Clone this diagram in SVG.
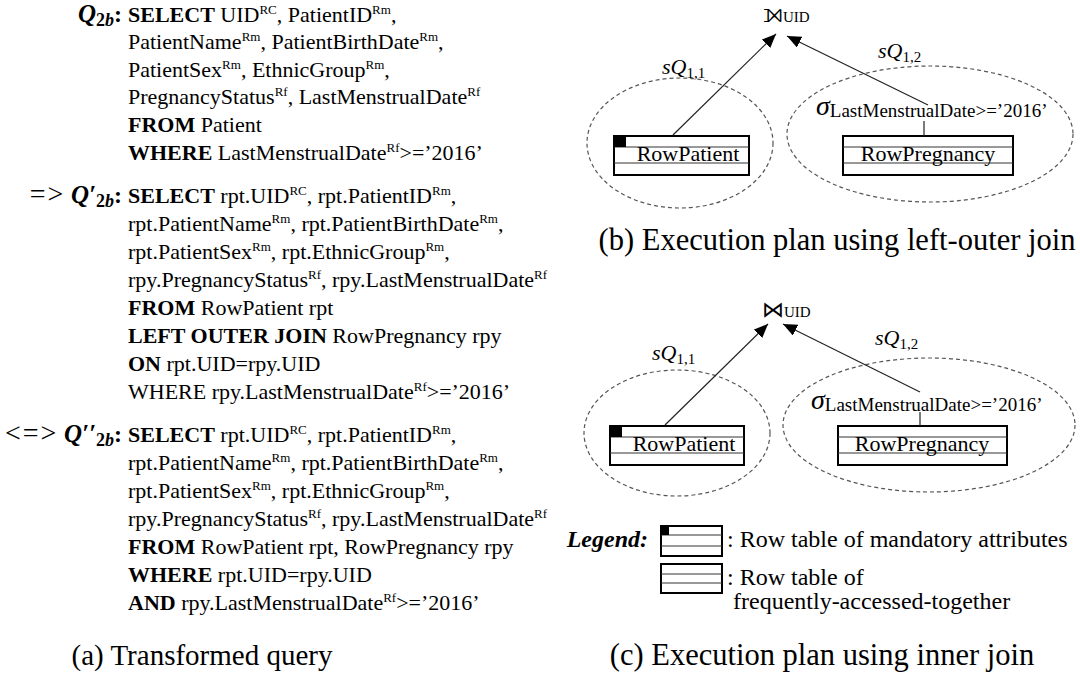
<svg xmlns="http://www.w3.org/2000/svg" width="1080" height="679" viewBox="0 0 1080 679">
<style>
text{font-family:"Liberation Serif","Times New Roman",serif;font-size:22px;fill:#000}
.b{font-weight:bold}
.i{font-style:italic}
.sup{font-size:13px}
.sub{font-size:15px}
.cap{font-size:29px}
.cap2{font-size:30.5px}
.lg{font-size:24px}
.tbl{font-size:22px}
.lq{font-size:25px}
.ls{font-size:18px}
.arr{font-size:28px;letter-spacing:2px}
.ell{fill:none;stroke:#555;stroke-width:1.2;stroke-dasharray:4 3}
.box{fill:#fff;stroke:#000;stroke-width:2}
.row{stroke:#333;stroke-width:1}
.conn{stroke:#222;stroke-width:1.2;fill:none}
.sym{font-family:"DejaVu Sans","DejaVu Serif","Noto Sans",sans-serif}
</style>
<defs>
<marker id="ah" markerUnits="userSpaceOnUse" markerWidth="15" markerHeight="12" refX="14" refY="6" orient="auto"><path d="M0,0 L14,6 L0,12 Z" fill="#000"/></marker>
</defs>

<g id="query-a">
<text x="122" y="22" text-anchor="end" class="b"><tspan class="i lq">Q</tspan><tspan class="ls" dy="4">2<tspan class="i">b</tspan></tspan><tspan dy="-4" font-size="24">:</tspan></text>
<text x="128" y="22"><tspan class="b">SELECT</tspan> UID<tspan class="sup" dy="-8">RC</tspan><tspan dy="8">, PatientID</tspan><tspan class="sup" dy="-8">Rm</tspan><tspan dy="8">,</tspan></text>
<text x="128" y="49">PatientName<tspan class="sup" dy="-8">Rm</tspan><tspan dy="8">, PatientBirthDate</tspan><tspan class="sup" dy="-8">Rm</tspan><tspan dy="8">,</tspan></text>
<text x="128" y="77">PatientSex<tspan class="sup" dy="-8">Rm</tspan><tspan dy="8">, EthnicGroup</tspan><tspan class="sup" dy="-8">Rm</tspan><tspan dy="8">,</tspan></text>
<text x="128" y="104">PregnancyStatus<tspan class="sup" dy="-8">Rf</tspan><tspan dy="8">, LastMenstrualDate</tspan><tspan class="sup" dy="-8">Rf</tspan></text>
<text x="128" y="132"><tspan class="b">FROM</tspan> Patient</text>
<text x="128" y="160"><tspan class="b">WHERE</tspan> LastMenstrualDate<tspan class="sup" dy="-8">Rf</tspan><tspan dy="8">&gt;=’2016’</tspan></text>

<text x="122" y="203" text-anchor="end"><tspan class="arr">=&gt;</tspan><tspan> </tspan><tspan class="b i lq">Q′</tspan><tspan class="ls b" dy="4">2<tspan class="i">b</tspan></tspan><tspan class="b" dy="-4" font-size="24">:</tspan></text>
<text x="128" y="203"><tspan class="b">SELECT</tspan> rpt.UID<tspan class="sup" dy="-8">RC</tspan><tspan dy="8">, rpt.PatientID</tspan><tspan class="sup" dy="-8">Rm</tspan><tspan dy="8">,</tspan></text>
<text x="128" y="231">rpt.PatientName<tspan class="sup" dy="-8">Rm</tspan><tspan dy="8">, rpt.PatientBirthDate</tspan><tspan class="sup" dy="-8">Rm</tspan><tspan dy="8">,</tspan></text>
<text x="128" y="259">rpt.PatientSex<tspan class="sup" dy="-8">Rm</tspan><tspan dy="8">, rpt.EthnicGroup</tspan><tspan class="sup" dy="-8">Rm</tspan><tspan dy="8">,</tspan></text>
<text x="128" y="287">rpy.PregnancyStatus<tspan class="sup" dy="-8">Rf</tspan><tspan dy="8">, rpy.LastMenstrualDate</tspan><tspan class="sup" dy="-8">Rf</tspan></text>
<text x="128" y="315"><tspan class="b">FROM</tspan> RowPatient rpt</text>
<text x="128" y="343"><tspan class="b">LEFT OUTER JOIN</tspan> RowPregnancy rpy</text>
<text x="128" y="371"><tspan class="b">ON</tspan> rpt.UID=rpy.UID</text>
<text x="128" y="399">WHERE rpy.LastMenstrualDate<tspan class="sup" dy="-8">Rf</tspan><tspan dy="8">&gt;=’2016’</tspan></text>

<text x="122" y="442" text-anchor="end"><tspan class="arr">&lt;=&gt;</tspan><tspan> </tspan><tspan class="b i lq">Q′′</tspan><tspan class="ls b" dy="4">2<tspan class="i">b</tspan></tspan><tspan class="b" dy="-4" font-size="24">:</tspan></text>
<text x="128" y="442"><tspan class="b">SELECT</tspan> rpt.UID<tspan class="sup" dy="-8">RC</tspan><tspan dy="8">, rpt.PatientID</tspan><tspan class="sup" dy="-8">Rm</tspan><tspan dy="8">,</tspan></text>
<text x="128" y="470">rpt.PatientName<tspan class="sup" dy="-8">Rm</tspan><tspan dy="8">, rpt.PatientBirthDate</tspan><tspan class="sup" dy="-8">Rm</tspan><tspan dy="8">,</tspan></text>
<text x="128" y="498">rpt.PatientSex<tspan class="sup" dy="-8">Rm</tspan><tspan dy="8">, rpt.EthnicGroup</tspan><tspan class="sup" dy="-8">Rm</tspan><tspan dy="8">,</tspan></text>
<text x="128" y="526">rpy.PregnancyStatus<tspan class="sup" dy="-8">Rf</tspan><tspan dy="8">, rpy.LastMenstrualDate</tspan><tspan class="sup" dy="-8">Rf</tspan></text>
<text x="128" y="554"><tspan class="b">FROM</tspan> RowPatient rpt, RowPregnancy rpy</text>
<text x="128" y="582"><tspan class="b">WHERE</tspan> rpt.UID=rpy.UID</text>
<text x="128" y="610"><tspan class="b">AND</tspan> rpy.LastMenstrualDate<tspan class="sup" dy="-8">Rf</tspan><tspan dy="8">&gt;=’2016’</tspan></text>

<text x="202" y="665" text-anchor="middle" class="cap">(a) Transformed query</text>
</g>

<g id="plan-b">
<ellipse class="ell" cx="680" cy="143" rx="93" ry="65"/>
<ellipse class="ell" cx="930" cy="134" rx="143" ry="68"/>
<g id="b-join"><text x="763" y="22"><tspan class="sym" font-size="26">⟕</tspan><tspan font-size="15">UID</tspan></text></g>
<g id="b-rowpatient">
<rect class="box" x="614" y="136" width="135" height="39"/>
<line class="row" x1="614" y1="147" x2="749" y2="147"/>
<line class="row" x1="614" y1="163" x2="749" y2="163"/>
<rect x="614" y="136" width="12" height="11" fill="#000"/>
<text x="688" y="161" text-anchor="middle" class="tbl">RowPatient</text>
</g>
<g id="b-rowpregnancy">
<rect class="box" x="843" y="136" width="170" height="39"/>
<line class="row" x1="843" y1="147" x2="1013" y2="147"/>
<line class="row" x1="843" y1="163" x2="1013" y2="163"/>
<text x="928" y="161" text-anchor="middle" class="tbl">RowPregnancy</text>
</g>
<g id="b-select"><text x="816" y="115"><tspan class="i" font-size="28">σ</tspan><tspan font-size="19" dy="2">LastMenstrualDate&gt;=’2016’</tspan></text></g>
<g id="b-labels">
<text x="662" y="74" class="i" font-size="24">sQ<tspan class="sub" font-style="normal" dy="4">1,1</tspan></text>
<text x="878" y="58" class="i" font-size="24">sQ<tspan class="sub" font-style="normal" dy="4">1,2</tspan></text>
</g>
<text x="837" y="250" text-anchor="middle" class="cap2">(b) Execution plan using left-outer join</text>
</g>

<g id="plan-c">
<ellipse class="ell" cx="677" cy="433" rx="93" ry="63"/>
<ellipse class="ell" cx="929" cy="425" rx="146" ry="67"/>
<g id="c-join"><text x="762" y="317"><tspan class="sym" font-size="22">⋈</tspan><tspan font-size="15">UID</tspan></text></g>
<g id="c-rowpatient">
<rect class="box" x="610" y="426" width="134" height="39"/>
<line class="row" x1="610" y1="437" x2="744" y2="437"/>
<line class="row" x1="610" y1="453" x2="744" y2="453"/>
<rect x="610" y="426" width="12" height="11" fill="#000"/>
<text x="684" y="451" text-anchor="middle" class="tbl">RowPatient</text>
</g>
<g id="c-rowpregnancy">
<rect class="box" x="838" y="426" width="169" height="39"/>
<line class="row" x1="838" y1="437" x2="1007" y2="437"/>
<line class="row" x1="838" y1="453" x2="1007" y2="453"/>
<text x="922" y="451" text-anchor="middle" class="tbl">RowPregnancy</text>
</g>
<g id="c-select"><text x="811" y="409"><tspan class="i" font-size="28">σ</tspan><tspan font-size="19" dy="2">LastMenstrualDate&gt;=’2016’</tspan></text></g>
<g id="c-labels">
<text x="652" y="360" class="i" font-size="24">sQ<tspan class="sub" font-style="normal" dy="4">1,1</tspan></text>
<text x="875" y="345" class="i" font-size="24">sQ<tspan class="sub" font-style="normal" dy="4">1,2</tspan></text>
</g>
</g>

<g id="connectors">
<line class="conn" x1="673" y1="135" x2="776" y2="34" marker-end="url(#ah)"/>
<line class="conn" x1="928" y1="105" x2="787" y2="36" marker-end="url(#ah)"/>
<line class="conn" x1="924" y1="121" x2="924" y2="136"/>
<line class="conn" x1="665" y1="425" x2="768" y2="324" marker-end="url(#ah)"/>
<line class="conn" x1="920" y1="392" x2="783" y2="324" marker-end="url(#ah)"/>
<line class="conn" x1="920" y1="412" x2="920" y2="426"/>
</g>

<g id="legend">
<text x="648" y="547" text-anchor="end" class="b i lg">Legend:</text>
<rect class="box" x="661" y="526" width="61" height="30"/>
<line class="row" x1="661" y1="535" x2="722" y2="535"/>
<line class="row" x1="661" y1="546" x2="722" y2="546"/>
<rect x="661" y="526" width="8" height="9" fill="#000"/>
<text x="727" y="547" class="lg">: Row table of mandatory attributes</text>
<rect class="box" x="661" y="564" width="61" height="29"/>
<line class="row" x1="661" y1="574" x2="722" y2="574"/>
<line class="row" x1="661" y1="583" x2="722" y2="583"/>
<text x="727" y="585" class="lg">: Row table of</text>
<text x="733" y="609" class="lg">frequently-accessed-together</text>
<text x="822" y="665" text-anchor="middle" class="cap2">(c) Execution plan using inner join</text>
</g>
</svg>
